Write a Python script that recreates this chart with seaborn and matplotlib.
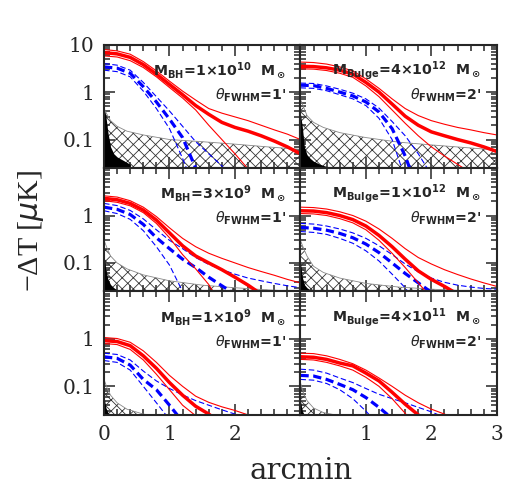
import numpy as np
import matplotlib
matplotlib.use('Agg')
import matplotlib.pyplot as plt
from matplotlib.ticker import FixedLocator, FixedFormatter, MultipleLocator, LogLocator, NullFormatter
import seaborn as sns

# -----------------------------
# DATA
# -----------------------------
x = [0, 0.2, 0.4, 0.6, 0.8, 1.0, 1.2, 1.4, 1.6, 1.8, 2.0, 2.2, 2.4, 2.6, 2.8, 3.0]
hx = [0, 0.05, 0.1, 0.2, 0.35, 0.6, 1.0, 1.5, 2.0, 2.5, 3.0]
bx = [0, 0.03, 0.06, 0.1, 0.15, 0.2, 0.3, 0.4]

# top left: M_BH = 1e10, 1'
tl_red = [6.8, 6.4, 5.4, 3.8, 2.4, 1.45, 0.88, 0.52, 0.34, 0.23, 0.18, 0.15, 0.12, 0.093, 0.07, 0.05]
tl_red_hi = [7.9, 7.4, 6.3, 4.4, 2.8, 1.7, 1.05, 0.68, 0.45, 0.36, 0.3, 0.25, 0.2, 0.16, 0.13, 0.1]
tl_red_lo = [5.8, 5.5, 4.6, 3.3, 2.1, 1.25, 0.75, 0.42, 0.2, 0.1, 0.05, 0.024, 0.012, 0.006, 0.003, 0.002]
tl_blue = [3.4, 3.2, 2.5, 1.3, 0.62, 0.27, 0.11, 0.025, 0.005, 0.002, 0.001, 0.001, 0.001, 0.001, 0.001, 0.001]
tl_blue_hi = [4.0, 3.7, 2.9, 1.6, 0.8, 0.4, 0.19, 0.09, 0.05, 0.028, 0.012, 0.005, 0.002, 0.001, 0.001, 0.001]
tl_blue_lo = [2.9, 2.7, 2.1, 1.05, 0.45, 0.17, 0.04, 0.008, 0.002, 0.001, 0.001, 0.001, 0.001, 0.001, 0.001, 0.001]
tl_hatch = [0.45, 0.33, 0.25, 0.19, 0.15, 0.125, 0.1, 0.09, 0.08, 0.07, 0.062]
tl_black = [0.5, 0.3, 0.14, 0.07, 0.05, 0.043, 0.036, 0.03]

# top right: M_Bulge = 4e12, 2'
tr_red = [3.5, 3.45, 3.25, 2.9, 2.4, 1.6, 1.0, 0.56, 0.31, 0.2, 0.145, 0.12, 0.1, 0.085, 0.07, 0.056]
tr_red_hi = [4.3, 4.2, 3.9, 3.4, 2.8, 1.9, 1.2, 0.72, 0.45, 0.32, 0.25, 0.21, 0.18, 0.16, 0.14, 0.125]
tr_red_lo = [3.1, 3.05, 2.85, 2.5, 2.05, 1.35, 0.8, 0.42, 0.22, 0.12, 0.07, 0.045, 0.03, 0.02, 0.012, 0.008]
tr_blue = [1.4, 1.37, 1.2, 1.0, 0.83, 0.62, 0.38, 0.17, 0.045, 0.008, 0.002, 0.001, 0.001, 0.001, 0.001, 0.001]
tr_blue_hi = [1.55, 1.52, 1.35, 1.15, 0.95, 0.72, 0.46, 0.24, 0.12, 0.05, 0.018, 0.006, 0.002, 0.001, 0.001, 0.001]
tr_blue_lo = [1.23, 1.2, 1.07, 0.88, 0.72, 0.52, 0.28, 0.1, 0.015, 0.003, 0.001, 0.001, 0.001, 0.001, 0.001, 0.001]
tr_hatch = [0.7, 0.48, 0.32, 0.23, 0.18, 0.14, 0.11, 0.088, 0.077, 0.068, 0.06]
tr_black = [0.35, 0.18, 0.07, 0.048, 0.04, 0.035, 0.03, 0.027]

# middle left: M_BH = 3e9, 1'
ml_red = [2.3, 2.15, 1.8, 1.3, 0.8, 0.43, 0.23, 0.14, 0.1, 0.072, 0.05, 0.034, 0.022, 0.014, 0.008, 0.005]
ml_red_hi = [2.6, 2.45, 2.05, 1.5, 0.95, 0.55, 0.33, 0.22, 0.16, 0.125, 0.1, 0.08, 0.066, 0.055, 0.045, 0.038]
ml_red_lo = [2.05, 1.9, 1.6, 1.15, 0.68, 0.34, 0.15, 0.075, 0.035, 0.012, 0.004, 0.001, 0.001, 0.001, 0.001, 0.001]
ml_blue = [1.5, 1.35, 1.05, 0.65, 0.34, 0.2, 0.12, 0.08, 0.05, 0.033, 0.022, 0.014, 0.008, 0.004, 0.002, 0.001]
ml_blue_hi = [1.8, 1.62, 1.28, 0.85, 0.5, 0.3, 0.2, 0.13, 0.093, 0.072, 0.058, 0.048, 0.042, 0.037, 0.033, 0.03]
ml_blue_lo = [1.26, 1.1, 0.83, 0.48, 0.22, 0.09, 0.025, 0.005, 0.001, 0.001, 0.001, 0.001, 0.001, 0.001, 0.001, 0.001]
ml_hatch = [0.3, 0.2, 0.14, 0.1, 0.075, 0.056, 0.042, 0.034, 0.03, 0.027, 0.025]
ml_black = [0.15, 0.07, 0.045, 0.035, 0.03, 0.027, 0.024, 0.02]

# middle right: M_Bulge = 1e12, 2'
mr_red = [1.26, 1.24, 1.15, 1.0, 0.82, 0.6, 0.38, 0.22, 0.12, 0.068, 0.045, 0.032, 0.022, 0.015, 0.01, 0.006]
mr_red_hi = [1.5, 1.47, 1.37, 1.2, 1.0, 0.76, 0.52, 0.33, 0.2, 0.13, 0.095, 0.072, 0.057, 0.046, 0.038, 0.032]
mr_red_lo = [1.1, 1.08, 1.0, 0.86, 0.7, 0.5, 0.3, 0.16, 0.08, 0.038, 0.018, 0.008, 0.003, 0.001, 0.001, 0.001]
mr_blue = [0.56, 0.54, 0.49, 0.42, 0.34, 0.25, 0.165, 0.1, 0.06, 0.038, 0.024, 0.015, 0.009, 0.005, 0.003, 0.002]
mr_blue_hi = [0.68, 0.66, 0.6, 0.52, 0.43, 0.33, 0.23, 0.15, 0.095, 0.065, 0.048, 0.039, 0.034, 0.031, 0.029, 0.028]
mr_blue_lo = [0.46, 0.44, 0.4, 0.33, 0.26, 0.18, 0.11, 0.058, 0.03, 0.012, 0.004, 0.001, 0.001, 0.001, 0.001, 0.001]
mr_hatch = [0.3, 0.2, 0.14, 0.085, 0.063, 0.048, 0.037, 0.031, 0.028, 0.026, 0.025]
mr_black = [0.1, 0.05, 0.035, 0.03, 0.027, 0.025, 0.022, 0.02]

# bottom left: M_BH = 1e9, 1'
bl_red = [0.92, 0.88, 0.72, 0.44, 0.24, 0.12, 0.065, 0.038, 0.026, 0.016, 0.009, 0.005, 0.003, 0.002, 0.001, 0.001]
bl_red_hi = [1.07, 1.02, 0.85, 0.56, 0.32, 0.17, 0.1, 0.062, 0.046, 0.037, 0.031, 0.025, 0.02, 0.015, 0.01, 0.007]
bl_red_lo = [0.8, 0.76, 0.6, 0.36, 0.18, 0.085, 0.04, 0.024, 0.012, 0.005, 0.002, 0.001, 0.001, 0.001, 0.001, 0.001]
bl_blue = [0.42, 0.39, 0.28, 0.14, 0.085, 0.04, 0.018, 0.007, 0.002, 0.001, 0.001, 0.001, 0.001, 0.001, 0.001, 0.001]
bl_blue_hi = [0.5, 0.47, 0.36, 0.21, 0.13, 0.09, 0.066, 0.05, 0.04, 0.032, 0.026, 0.02, 0.014, 0.009, 0.006, 0.004]
bl_blue_lo = [0.35, 0.32, 0.22, 0.1, 0.045, 0.02, 0.008, 0.002, 0.001, 0.001, 0.001, 0.001, 0.001, 0.001, 0.001, 0.001]
bl_hatch = [0.14, 0.09, 0.065, 0.045, 0.033, 0.026, 0.022, 0.02, 0.02, 0.02, 0.02]
bl_black = [0.06, 0.035, 0.028, 0.024, 0.02, 0.02, 0.02, 0.02]

# bottom right: M_Bulge = 4e11, 2'
br_red = [0.42, 0.41, 0.37, 0.31, 0.27, 0.19, 0.13, 0.075, 0.042, 0.025, 0.014, 0.008, 0.004, 0.002, 0.001, 0.001]
br_red_hi = [0.5, 0.49, 0.44, 0.37, 0.3, 0.22, 0.15, 0.1, 0.065, 0.045, 0.033, 0.026, 0.02, 0.014, 0.01, 0.007]
br_red_lo = [0.37, 0.36, 0.32, 0.27, 0.22, 0.155, 0.1, 0.055, 0.027, 0.012, 0.005, 0.002, 0.001, 0.001, 0.001, 0.001]
br_blue = [0.17, 0.165, 0.14, 0.11, 0.085, 0.058, 0.036, 0.021, 0.01, 0.004, 0.002, 0.001, 0.001, 0.001, 0.001, 0.001]
br_blue_hi = [0.23, 0.22, 0.19, 0.15, 0.12, 0.09, 0.068, 0.055, 0.045, 0.036, 0.029, 0.022, 0.016, 0.011, 0.008, 0.005]
br_blue_lo = [0.14, 0.135, 0.115, 0.085, 0.055, 0.03, 0.015, 0.006, 0.002, 0.001, 0.001, 0.001, 0.001, 0.001, 0.001, 0.001]
br_hatch = [0.12, 0.07, 0.05, 0.035, 0.028, 0.024, 0.02, 0.02, 0.02, 0.02, 0.02]
br_black = [0.05, 0.03, 0.025, 0.02, 0.02, 0.02, 0.02, 0.02]

labels_mass = [r'M$_{BH}$=1×10$^{10}$  M$_\odot$', r'M$_{Bulge}$=4×10$^{12}$  M$_\odot$',
               r'M$_{BH}$=3×10$^{9}$  M$_\odot$', r'M$_{Bulge}$=1×10$^{12}$  M$_\odot$',
               r'M$_{BH}$=1×10$^{9}$  M$_\odot$', r'M$_{Bulge}$=4×10$^{11}$  M$_\odot$']
labels_beam = [r"$\mathit{\theta}_{FWHM}$=1'", r"$\mathit{\theta}_{FWHM}$=2'"] * 3

panels = [
    (tl_red, tl_red_hi, tl_red_lo, tl_blue, tl_blue_hi, tl_blue_lo, tl_hatch, tl_black),
    (tr_red, tr_red_hi, tr_red_lo, tr_blue, tr_blue_hi, tr_blue_lo, tr_hatch, tr_black),
    (ml_red, ml_red_hi, ml_red_lo, ml_blue, ml_blue_hi, ml_blue_lo, ml_hatch, ml_black),
    (mr_red, mr_red_hi, mr_red_lo, mr_blue, mr_blue_hi, mr_blue_lo, mr_hatch, mr_black),
    (bl_red, bl_red_hi, bl_red_lo, bl_blue, bl_blue_hi, bl_blue_lo, bl_hatch, bl_black),
    (br_red, br_red_hi, br_red_lo, br_blue, br_blue_hi, br_blue_lo, br_hatch, br_black),
]

# -----------------------------
# STYLE
# -----------------------------
sns.set_style('ticks')
plt.rcParams['font.family'] = ['DejaVu Serif']
plt.rcParams['mathtext.fontset'] = 'dejavusans'
plt.rcParams['mathtext.default'] = 'regular'
plt.rcParams['hatch.linewidth'] = 0.6
plt.rcParams['hatch.color'] = '#333333'

fig, axes = plt.subplots(3, 2, figsize=(5.28, 4.91), dpi=100)
fig.subplots_adjust(left=0.197, right=0.941, top=0.909, bottom=0.155, hspace=0, wspace=0)

for i, ax in enumerate(axes.flat):
    red, red_hi, red_lo, blue, blue_hi, blue_lo, hatch, black = panels[i]
    row, col = divmod(i, 2)
    ax.set_yscale('log')

    # noise regions
    ax.fill_between(hx, 1e-3, hatch, facecolor='none', edgecolor='#333333', hatch='xxx', lw=0)
    ax.plot(hx, hatch, color='#888888', lw=0.6)
    ax.fill_between(bx, 1e-3, black, color='black', lw=0)

    # dashed blue
    for vals, lw, dsh in [(blue_hi, 0.8, [5, 2.5]), (blue_lo, 0.8, [5, 2.5]), (blue, 2.3, [2.6, 1.4])]:
        sns.lineplot(x=x, y=vals, ax=ax, color='blue', lw=lw)
        ax.lines[-1].set_dashes(dsh)
    # solid red
    for vals, lw in [(red_hi, 0.8), (red_lo, 0.8), (red, 2.5)]:
        sns.lineplot(x=x, y=vals, ax=ax, color='red', lw=lw)

    ax.set_xlim(0, 3)
    ax.set_ylim(0.025, 10)
    ax.xaxis.set_major_locator(FixedLocator([0, 1, 2, 3]))
    ax.xaxis.set_minor_locator(MultipleLocator(0.2))
    ax.yaxis.set_major_locator(FixedLocator([0.1, 1, 10]))
    ax.yaxis.set_minor_locator(LogLocator(base=10, subs=np.arange(2, 10)))
    ax.yaxis.set_minor_formatter(NullFormatter())
    ax.xaxis.set_minor_formatter(NullFormatter())
    ax.tick_params(which='both', direction='in', top=True, right=True, width=1.1)
    ax.tick_params(which='major', length=8, labelsize=14.5, pad=7)
    ax.tick_params(which='minor', length=4)
    for s in ax.spines.values():
        s.set_linewidth(1.5)
    ax.set_xlabel('')
    ax.set_ylabel('')

    if col == 0:
        ax.yaxis.set_major_formatter(FixedFormatter(['0.1', '1', '10' if row == 0 else '']))
    else:
        ax.yaxis.set_major_formatter(NullFormatter())
    if row == 2:
        xt = ['0', '1', '2', ''] if col == 0 else ['', '1', '2', '3']
        ax.xaxis.set_major_formatter(FixedFormatter(xt))
    else:
        ax.xaxis.set_major_formatter(NullFormatter())

    tx = 0.93 if col == 0 else 0.92
    ax.text(tx, 0.79, labels_mass[i], transform=ax.transAxes,
            ha='right', va='center', fontsize=10.2, fontweight='bold', family='DejaVu Sans')
    ax.text(tx, 0.59, labels_beam[i], transform=ax.transAxes,
            ha='right', va='center', fontsize=10.2, fontweight='bold', family='DejaVu Sans')

fig.text(0.57, 0.04, 'arcmin', ha='center', va='center', fontsize=21)
fig.text(0.058, 0.53, r'$-\Delta$T [$\mathit{\mu}$K]', rotation=90, ha='center', va='center',
         fontsize=21.5, family='Liberation Serif')

plt.savefig('out.png', dpi=100)
